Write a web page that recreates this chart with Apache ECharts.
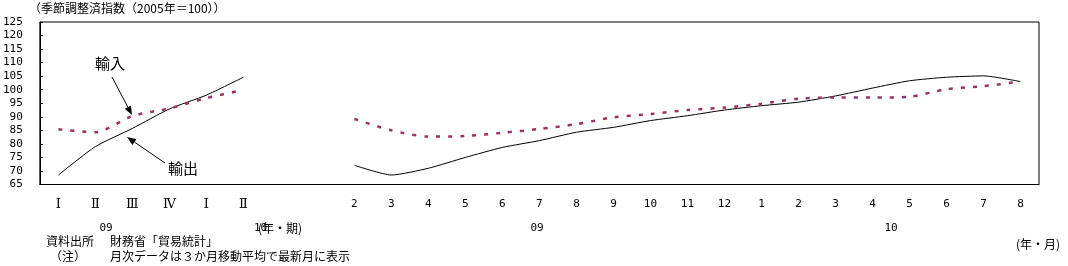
<!DOCTYPE html>
<html>
<head>
<meta charset="utf-8">
<script src="https://cdn.jsdelivr.net/npm/echarts@6/dist/echarts.min.js"></script>
<style>
html,body{margin:0;padding:0;background:#fff;}
#chart{width:1068px;height:266px;}
</style>
</head>
<body>
<div id="chart"></div>
<script>
// categories: 2009 Q1-Q4, 2010 Q1-Q2, two blank slots, then months 2009/2 .. 2010/8
const categories = ['Ⅰ','Ⅱ','Ⅲ','Ⅳ','Ⅰ','Ⅱ','','','2','3','4','5','6','7','8','9','10','11','12','1','2','3','4','5','6','7','8'];
const exportQ = [68.5, 79.0, 85.7, 92.9, 98.0, 104.6];
const importQ = [85.4, 84.3, 90.3, 93.1, 96.9, 99.9];
const exportM = [72.1, 68.5, 71.0, 75.0, 78.7, 81.2, 84.3, 86.1, 88.6, 90.4, 92.5, 94.1, 95.4, 97.7, 100.6, 103.3, 104.6, 105.1, 103.0];
const importM = [89.2, 85.0, 82.7, 82.9, 84.1, 85.5, 87.3, 89.8, 91.0, 92.5, 93.4, 94.8, 96.7, 97.1, 97.1, 97.4, 100.2, 101.3, 103.0];
const yMin = 65, yMax = 125, yStep = 5;

const exportData = exportQ.concat([null, null], exportM);
const importData = importQ.concat([null, null], importM);

const JP = '"Noto Sans CJK JP", sans-serif';
const MONO = '"DejaVu Sans Mono", monospace';

function arrow(x1, y1, x2, y2) {
  const L = 9, W = 3.5;
  const dx = x2 - x1, dy = y2 - y1, len = Math.sqrt(dx*dx + dy*dy);
  const ux = dx/len, uy = dy/len, px = -uy, py = ux;
  const bx = x2 - ux*L, by = y2 - uy*L;
  return [
    {type:'line', shape:{x1:x1, y1:y1, x2:bx, y2:by}, style:{stroke:'#000', lineWidth:1}, silent:true},
    {type:'polygon', shape:{points:[[x2,y2],[bx+px*W,by+py*W],[bx-px*W,by-py*W]]}, style:{fill:'#000'}, silent:true}
  ];
}

function txt(x, y, text, font, align) {
  return {type:'text', x:x, y:y, silent:true,
    style:{text:text, font:font, fill:'#000', textAlign:align || 'left', textVerticalAlign:'middle'}};
}

const chart = echarts.init(document.getElementById('chart'), null, {renderer:'canvas'});
chart.setOption({
  animation:false,
  backgroundColor:'#fff',
  grid:{left:39, top:22, right:29, bottom:81.5, show:true, borderColor:'#000', borderWidth:1, containLabel:false},
  xAxis:{
    type:'category', data:categories, boundaryGap:true,
    axisLine:{show:true, lineStyle:{color:'#000', width:1}},
    axisTick:{show:false},
    axisLabel:{interval:0, margin:14, color:'#000', fontSize:11, fontFamily:MONO,
      formatter:function(v){ return /^[ⅠⅡⅢⅣ]$/.test(v) ? '{r|' + v + '}' : v; },
      rich:{r:{fontFamily:'"Liberation Serif", "DejaVu Serif", serif', fontSize:13, color:'#000'}}},
    splitLine:{show:false}
  },
  yAxis:{
    type:'value', min:yMin, max:yMax, interval:yStep,
    axisLine:{show:true, lineStyle:{color:'#000', width:1}},
    axisTick:{show:true, inside:true, length:3, lineStyle:{color:'#000'}},
    axisLabel:{margin:17, color:'#000', fontSize:11, fontFamily:MONO},
    splitLine:{show:false}
  },
  series:[
    {name:'輸出', type:'line', data:exportData, smooth:0.2, connectNulls:false, symbol:'none',
      lineStyle:{color:'#000', width:1}},
    {name:'輸入', type:'line', data:importData, smooth:0.25, connectNulls:false, symbol:'none',
      lineStyle:{color:'#993366', width:2.5, type:[4,8], cap:'butt'}}
  ],
  graphic:[
    txt(29, 8, '（季節調整済指数（2005年＝100））', '12px ' + JP),
    txt(95, 63, '輸入', '15px ' + JP),
    txt(168, 168, '輸出', '15px ' + JP),
    ...arrow(112, 77, 132, 115),
    ...arrow(165, 163, 127, 137),
    txt(106, 228, '09', '11px ' + MONO, 'center'),
    txt(254, 228, '10', '11px ' + MONO),
    txt(258, 228, '(年・期)', '12px ' + JP),
    txt(537, 228, '09', '11px ' + MONO, 'center'),
    txt(891, 228, '10', '11px ' + MONO, 'center'),
    txt(1016, 244, '(年・月)', '12px ' + JP),
    txt(46, 241, '資料出所', '12px ' + JP),
    txt(110, 241, '財務省「貿易統計」', '12px ' + JP),
    txt(50, 256, '（注）', '12px ' + JP),
    txt(110, 256, '月次データは３か月移動平均で最新月に表示', '12px ' + JP)
  ]
});
</script>
</body>
</html>
